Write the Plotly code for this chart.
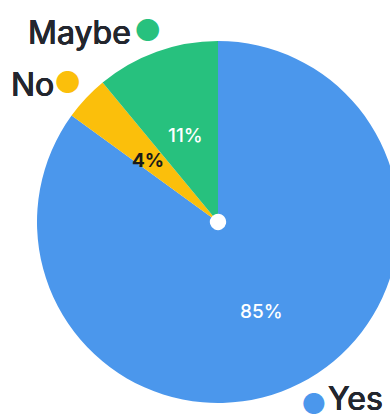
import math
import plotly.graph_objects as go

# Survey answers
labels = ["Yes", "No", "Maybe"]
values = [85, 4, 11]
colors = ["#4B97EC", "#FBBF0B", "#27C17E"]
pct_colors = ["#FFFFFF", "#1A1A1A", "#FFFFFF"]

W, H = 400, 420
cx, cy, r = 218, 222, 181  # pie centre / radius in px

fig = go.Figure(go.Pie(
    labels=labels,
    values=values,
    sort=False,
    direction="clockwise",
    rotation=0,
    hole=0.045,
    marker=dict(colors=colors, line=dict(width=0)),
    textinfo="none",
    hoverinfo="label+percent",
    domain=dict(x=[(cx - r) / W, (cx + r) / W],
                y=[1 - (cy + r) / H, 1 - (cy - r) / H]),
    showlegend=False,
))

FONT = "Inter"
TEXT_COL = "#23262E"
annotations = []


def px_note(x, y, text, **kw):
    d = dict(x=x / W, y=1 - y / H, xref="paper", yref="paper",
             text=text, showarrow=False, yanchor="middle")
    d.update(kw)
    return d


# percentage labels at mid-angle of each slice
total = sum(values)
cum = 0
for v, c in zip(values, pct_colors):
    mid = (cum + v / 2) / total
    cum += v
    th = 2 * math.pi * mid
    lx = cx + 0.53 * r * math.sin(th)
    ly = cy - 0.53 * r * math.cos(th) + 4
    annotations.append(px_note(
        lx, ly, f"{round(100 * v / total)}%", xanchor="center",
        font=dict(family=FONT, size=19, color=c,
                  weight=700 if c != "#FFFFFF" else 500)))

# slightly heavier-than-regular category labels
label_font = dict(
    family=FONT, size=32, color=TEXT_COL, weight=400,
    shadow=f"0.5px 0 0 {TEXT_COL}, -0.5px 0 0 {TEXT_COL}, 0 0.4px 0 {TEXT_COL}",
)

# outer category labels with coloured dots
annotations += [
    px_note(133, 32.5, labels[2], xanchor="right", font=label_font),
    px_note(147.5, 30, "●", xanchor="center",
            font=dict(family=FONT, size=30, color=colors[2])),
    px_note(56, 84.5, labels[1], xanchor="right", font=label_font),
    px_note(67.5, 82, "●", xanchor="center",
            font=dict(family=FONT, size=30, color=colors[1])),
    px_note(313.5, 404, "●", xanchor="center",
            font=dict(family=FONT, size=28, color=colors[0])),
    dict(x=326 / W, y=0, xref="paper", yref="paper", text=labels[0],
         showarrow=False, xanchor="left", yanchor="bottom", font=label_font),
]

fig.update_layout(
    width=W, height=H,
    margin=dict(l=0, r=0, t=0, b=0),
    paper_bgcolor="white",
    plot_bgcolor="white",
    annotations=annotations,
)

fig.write_html("out.html",
               post_script="document.body.style.margin='0';document.body.style.overflow='hidden';")
